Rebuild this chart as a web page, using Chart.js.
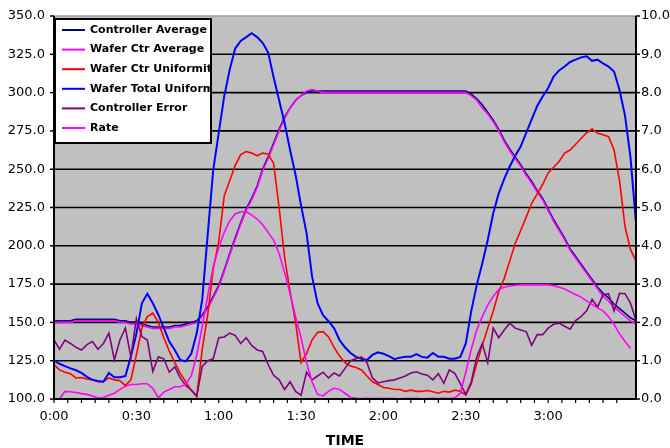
<!DOCTYPE html>
<html>
<head>
<meta charset="utf-8">
<script src="https://cdn.jsdelivr.net/npm/chart.js@4.4.1/dist/chart.umd.min.js"></script>
<style>
  body { margin: 0; background: #ffffff; }
  #wrap { width: 670px; height: 448px; position: relative; }
</style>
</head>
<body>
<div id="wrap"><canvas id="myLineChart"></canvas></div>
<script>

// time in minutes since start (one sample every 2 min)
const minutes = [
  0, 2, 4, 6, 8, 10, 12, 14, 16, 18,
  20, 22, 24, 26, 28, 30, 32, 34, 36, 38,
  40, 42, 44, 46, 48, 50, 52, 54, 56, 58,
  60, 62, 64, 66, 68, 70, 72, 74, 76, 78,
  80, 82, 84, 86, 88, 90, 92, 94, 96, 98,
  100, 102, 104, 106, 108, 110, 112, 114, 116, 118,
  120, 122, 124, 126, 128, 130, 132, 134, 136, 138,
  140, 142, 144, 146, 148, 150, 152, 154, 156, 158,
  160, 162, 164, 166, 168, 170, 172, 174, 176, 178,
  180, 182, 184, 186, 188, 190, 192, 194, 196, 198,
  200, 202, 204, 206, 208, 210, 212
];

// left axis series
const controllerAverage = [
  151, 151, 151, 151, 152, 152, 152, 152, 152, 152,
  152, 152, 151, 151, 150, 150, 149, 148, 147, 147,
  147, 147, 148, 148, 149, 150, 151, 155, 160, 167,
  174, 184, 195, 205, 215, 224, 231, 239, 250, 258,
  267, 276, 284, 290, 295, 298, 300, 301, 301, 301,
  301, 301, 301, 301, 301, 301, 301, 301, 301, 301,
  301, 301, 301, 301, 301, 301, 301, 301, 301, 301,
  301, 301, 301, 301, 301, 301, 299, 296, 292, 287,
  282, 276, 269, 263, 258, 253, 247, 242, 236, 231,
  224, 217, 211, 205, 198, 193, 188, 183, 178, 173,
  169, 166, 162, 159, 156, 153, 151
];
const waferCtrAverage = [
  150, 150, 150, 150, 151, 151, 151, 151, 151, 151,
  151, 151, 150, 150, 149, 149, 148, 147, 146, 146,
  146, 146, 147, 147, 148, 149, 150, 154, 159, 166,
  173, 183, 194, 204, 214, 223, 230, 238, 249, 257,
  266, 275, 283, 290, 295, 298, 301, 302, 301, 300,
  300, 300, 300, 300, 300, 300, 300, 300, 300, 300,
  300, 300, 300, 300, 300, 300, 300, 300, 300, 300,
  300, 300, 300, 300, 300, 300, 298, 295, 290, 286,
  281, 275, 268, 262, 257, 252, 246, 241, 235, 230,
  223, 216, 210, 204, 197, 192, 187, 182, 177, 172,
  167, 164, 160, 157, 154, 151, 149
];

// right axis series
const waferCtrUniformity = [
  0.9, 0.76, 0.7, 0.66, 0.55, 0.56, 0.52, 0.5, 0.45, 0.45,
  0.55, 0.5, 0.48, 0.35, 0.5, 1.15, 1.85, 2.15, 2.24, 2.0,
  1.6, 1.25, 0.95, 0.67, 0.45, 0.22, 0.06, 1.3, 2.2, 3.4,
  4.1, 5.3, 5.7, 6.1, 6.38, 6.46, 6.42, 6.35, 6.42, 6.4,
  6.15, 5.0, 3.7, 2.8, 2.0, 0.95, 1.19, 1.54, 1.74, 1.76,
  1.62, 1.35, 1.12, 0.95, 0.86, 0.82, 0.76, 0.6, 0.45, 0.38,
  0.3, 0.28, 0.25, 0.25, 0.2, 0.23, 0.2, 0.2, 0.22, 0.19,
  0.15, 0.2, 0.18, 0.23, 0.2, 0.1, 0.4, 0.93, 1.4, 1.85,
  2.3, 2.8, 3.15, 3.6, 4.06, 4.4, 4.75, 5.11, 5.35, 5.6,
  5.9, 6.05, 6.2, 6.42, 6.5, 6.65, 6.8, 6.95, 7.05, 6.94,
  6.9, 6.85, 6.5, 5.7, 4.5, 3.9, 3.6
];
const waferTotalUniformity = [
  1.0, 0.92, 0.86, 0.8, 0.75, 0.68, 0.58, 0.5, 0.47, 0.45,
  0.68, 0.57, 0.57, 0.6, 1.1, 1.7, 2.5, 2.75, 2.5, 2.2,
  1.85, 1.5, 1.28, 1.02, 0.98, 1.18, 1.72, 2.6, 4.3, 5.98,
  6.94, 7.9, 8.6, 9.15, 9.35, 9.45, 9.55, 9.45, 9.3, 9.05,
  8.4, 7.8, 7.2, 6.5, 5.85, 5.05, 4.33, 3.2, 2.5, 2.19,
  2.03, 1.85, 1.54, 1.35, 1.2, 1.1, 1.05, 1.02, 1.15, 1.22,
  1.18, 1.12, 1.04, 1.08, 1.1, 1.1, 1.17, 1.1, 1.08, 1.2,
  1.1, 1.1, 1.05, 1.05, 1.1, 1.45, 2.3, 2.98, 3.54, 4.15,
  4.85, 5.37, 5.75, 6.07, 6.35, 6.59, 6.95, 7.3, 7.65, 7.9,
  8.12, 8.42, 8.58, 8.68, 8.8, 8.86, 8.92, 8.95, 8.83, 8.86,
  8.76, 8.68, 8.55, 8.07, 7.4, 6.3, 4.6
];
const controllerError = [
  1.54, 1.3, 1.54, 1.45, 1.35, 1.28, 1.42, 1.5, 1.3, 1.45,
  1.72, 1.02, 1.54, 1.85, 1.1, 2.1, 1.63, 1.54, 0.72, 1.1,
  1.05, 0.7, 0.84, 0.55, 0.35, 0.24, 0.08, 0.85, 1.0, 1.05,
  1.6, 1.62, 1.72, 1.66, 1.45, 1.6, 1.4, 1.28, 1.24, 0.9,
  0.62, 0.5, 0.25, 0.45, 0.2, 0.1, 0.7, 0.5, 0.6, 0.7,
  0.55, 0.68, 0.6, 0.8, 1.0, 1.05, 1.1, 0.95, 0.55, 0.42,
  0.45, 0.48, 0.5, 0.55, 0.6, 0.68, 0.71, 0.65, 0.62, 0.5,
  0.66, 0.41, 0.76, 0.67, 0.4, 0.12, 0.45, 1.1, 1.45, 0.95,
  1.85, 1.6, 1.8, 1.98, 1.85, 1.8, 1.76, 1.4, 1.68, 1.68,
  1.85, 1.95, 1.98, 1.9, 1.82, 2.05, 2.15, 2.3, 2.6, 2.4,
  2.72, 2.75, 2.3, 2.76, 2.75, 2.5, 2.05
];
const rate = [
  null, 0.0, 0.2, 0.19, 0.17, 0.14, 0.12, 0.08, 0.03, 0.04,
  0.1, 0.15, 0.25, 0.33, 0.38, 0.38, 0.4, 0.4, 0.28, 0.03,
  0.18, 0.25, 0.32, 0.32, 0.38, 0.6, 1.15, 1.9, 2.7, 3.45,
  3.95, 4.35, 4.65, 4.83, 4.89, 4.89, 4.8, 4.7, 4.55, 4.35,
  4.15, 3.8, 3.3, 2.75, 2.15, 1.6, 0.95, 0.45, 0.12, 0.08,
  0.2, 0.28, 0.25, 0.15, 0.04, 0.02, 0.01, 0.02, 0.01, 0.02,
  0.01, 0.02, 0.01, 0.0, 0.02, 0.01, 0.02, 0.0, 0.01, 0.02,
  0.01, 0.02, 0.01, 0.03, 0.15, 0.7, 1.3, 1.8, 2.15, 2.45,
  2.68, 2.86, 2.92, 2.95, 2.97, 2.98, 2.98, 2.98, 2.98, 2.98,
  2.98, 2.96, 2.92, 2.87, 2.8, 2.73, 2.66, 2.56, 2.47, 2.38,
  2.3, 2.15, 1.95, 1.7, 1.5, 1.32, null
];

const seriesNames = [
  'Controller Average', 'Wafer Ctr Average', 'Wafer Ctr Uniformity',
  'Wafer Total Uniformity', 'Controller Error', 'Rate'
];
const seriesColors = ['#000080', '#FF00FF', '#FF0000', '#0000FF', '#800080', '#FF00FF'];
const seriesAxis = ['y', 'y', 'y2', 'y2', 'y2', 'y2'];
const seriesValues = [controllerAverage, waferCtrAverage, waferCtrUniformity,
  waferTotalUniformity, controllerError, rate];


function timeLabel(m) {
    const h = Math.floor(m / 60);
    const mm = m % 60;
    return h + ':' + (mm < 10 ? '0' : '') + mm;
}

function strokeLine(ctx, x1, y1, x2, y2) {
    ctx.beginPath();
    ctx.moveTo(x1, y1);
    ctx.lineTo(x2, y2);
    ctx.stroke();
}

// everything around the lines is painted after the chart is drawn:
// gridlines and the gray plot area go *behind* the data (destination-over),
// then axis lines, tick marks and the boxed legend go on top.
const sheetLook = {
    id: 'sheetLook',
    afterDraw(chart) {
        const { ctx, chartArea, scales } = chart;
        const a = chartArea;

        ctx.save();
        ctx.setLineDash([]);
        ctx.globalAlpha = 1;

        // behind the data lines
        ctx.globalCompositeOperation = 'destination-over';
        ctx.lineWidth = 1.6;
        scales.y.ticks.forEach(function(t) {
            const py = scales.y.getPixelForValue(t.value);
            ctx.strokeStyle = t.value === scales.y.max ? '#9a9a9a' : '#000000';
            strokeLine(ctx, a.left, py, a.right, py);
        });
        ctx.fillStyle = '#C0C0C0';
        ctx.fillRect(a.left, a.top, a.right - a.left, a.bottom - a.top);

        // on top
        ctx.globalCompositeOperation = 'source-over';
        ctx.strokeStyle = '#000000';
        ctx.lineWidth = 1.5;
        scales.y.ticks.forEach(function(t) {
            const py = scales.y.getPixelForValue(t.value);
            strokeLine(ctx, a.left - 4, py, a.left, py);
        });
        scales.y2.ticks.forEach(function(t) {
            const py = scales.y2.getPixelForValue(t.value);
            strokeLine(ctx, a.right, py, a.right + 4, py);
        });
        ctx.lineWidth = 1.2;
        scales.x.ticks.forEach(function(t) {
            const px = scales.x.getPixelForValue(t.value);
            strokeLine(ctx, px, a.bottom, px, a.bottom + 4);
        });
        ctx.lineWidth = 2;
        strokeLine(ctx, a.left, a.top, a.left, a.bottom + 1);
        strokeLine(ctx, a.right, a.top, a.right, a.bottom + 1);
        strokeLine(ctx, a.left - 1, a.bottom, a.right + 1, a.bottom);

        // boxed legend in the top-left corner, text cut off at the box edge
        const left = a.left + 1;
        const top = a.top + 3;
        const w = 156;
        const h = 124;
        ctx.fillStyle = '#ffffff';
        ctx.fillRect(left, top, w, h);
        ctx.strokeRect(left, top, w, h);
        ctx.beginPath();
        ctx.rect(left + 1, top + 1, w - 2, h - 2);
        ctx.clip();
        ctx.font = 'bold 11px "DejaVu Sans"';
        ctx.textBaseline = 'middle';
        for (let i = 0; i < seriesNames.length; i++) {
            const rowY = top + 11 + i * 19.6;
            ctx.strokeStyle = seriesColors[i];
            strokeLine(ctx, left + 7, rowY, left + 30, rowY);
            ctx.fillStyle = '#000000';
            ctx.fillText(seriesNames[i], left + 35, rowY);
        }
        ctx.restore();
    }
};


function renderChart() {

    const datasets = [];
    for (let i = 0; i < seriesNames.length; i++) {
        const points = [];
        for (let j = 0; j < minutes.length; j++) {
            points.push({ x: minutes[j], y: seriesValues[i][j] });
        }
        datasets.push({
            label: seriesNames[i],
            data: points,
            borderColor: seriesColors[i],
            borderWidth: i === 3 ? 2 : 1.6,
            pointRadius: 0,
            yAxisID: seriesAxis[i],
            // later series drawn on top
            order: seriesNames.length - i
        });
    }

    Chart.defaults.font.family = '"DejaVu Sans"';
    Chart.defaults.font.size = 13;
    Chart.defaults.color = '#000000';

    // library grid kept for spacing only, the visible lines come from sheetLook
    const hidden = 'rgba(0,0,0,0)';

    const myChart = new Chart(document.getElementById('myLineChart'), {
        type: 'line',
        data: { datasets: datasets },
        options: {
            animation: false,
            responsive: true,
            maintainAspectRatio: false,
            devicePixelRatio: 1,
            layout: { padding: { top: 16, left: 0, right: 0, bottom: 0 } },
            plugins: { legend: { display: false }, tooltip: { enabled: false } },
            scales: {
                x: {
                    type: 'linear', min: 0, max: 212,
                    afterFit: s => { s.height = 49; },
                    afterBuildTicks: s => { s.ticks = s.ticks.filter(t => t.value % 5 === 0); },
                    ticks: {
                        stepSize: 5, autoSkip: false, maxRotation: 0, padding: 6,
                        callback: v => v % 30 === 0 ? timeLabel(v) : ''
                    },
                    grid: { drawOnChartArea: false, drawTicks: true, tickLength: 4, color: hidden, tickColor: hidden },
                    border: { display: false },
                    title: {
                        display: true, text: 'TIME',
                        font: { size: 14, weight: 'bold', lineHeight: 1.2 },
                        padding: { top: 4, bottom: -2 }
                    }
                },
                y: {
                    position: 'left', min: 100, max: 350,
                    afterFit: s => { s.width = 54; },
                    ticks: { stepSize: 25, padding: 5, callback: v => v.toFixed(1) },
                    grid: { drawOnChartArea: false, tickLength: 4, color: hidden, tickColor: hidden },
                    border: { display: false }
                },
                y2: {
                    position: 'right', min: 0, max: 10,
                    afterFit: s => { s.width = 34; },
                    ticks: { stepSize: 1, padding: 1, callback: v => v.toFixed(1) },
                    grid: { drawOnChartArea: false, tickLength: 4, color: hidden, tickColor: hidden },
                    border: { display: false }
                }
            }
        },
        plugins: [sheetLook]
    });
}

renderChart();
</script>
</body>
</html>
